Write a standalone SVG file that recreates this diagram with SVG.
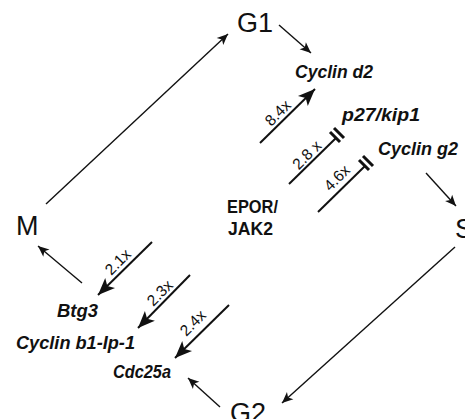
<svg xmlns="http://www.w3.org/2000/svg" width="465" height="419" viewBox="0 0 465 419">
<style>
.phase{font-family:"Liberation Sans",Arial,sans-serif;font-size:27px;fill:#111}
.gene{font-family:"Liberation Sans",Arial,sans-serif;font-size:17.5px;font-weight:bold;font-style:italic;fill:#111}
.rec{font-family:"Liberation Sans",Arial,sans-serif;font-size:18px;font-weight:bold;fill:#111}
.num{font-family:"Liberation Sans",Arial,sans-serif;font-size:15.5px;fill:#111;text-anchor:middle}
.cyc{stroke:#111;stroke-width:1.4;fill:none;marker-end:url(#arS)}
.act{stroke:#111;stroke-width:2;fill:none;marker-end:url(#arB)}
.inh{stroke:#111;stroke-width:2;fill:none}
.bar{stroke:#111;stroke-width:3;fill:none}
</style>
<defs>
<marker id="arS" markerUnits="userSpaceOnUse" markerWidth="14" markerHeight="12" viewBox="0 -6 12 12" refX="11" refY="0" orient="auto">
<path d="M11,0 L0,-4.8 L2.8,0 L0,4.8 z" fill="#111"/>
</marker>
<marker id="arB" markerUnits="userSpaceOnUse" markerWidth="20" markerHeight="16" viewBox="0 -8 18 16" refX="17" refY="0" orient="auto">
<path d="M17,0 L0,-7 L4,0 L0,7 z" fill="#111"/>
</marker>
</defs>
<rect width="465" height="419" fill="#fff"/>
<g id="connectors">
<line class="cyc" x1="46" y1="204" x2="228" y2="34"/>
<line class="cyc" x1="279" y1="25" x2="311" y2="53"/>
<line class="cyc" x1="426" y1="173" x2="456" y2="206"/>
<line class="cyc" x1="455" y1="247" x2="282" y2="403"/>
<line class="cyc" x1="220" y1="407" x2="188" y2="378"/>
<line class="cyc" x1="82" y1="283" x2="38" y2="246"/>
<g id="e-8.4x"><line class="act" x1="260" y1="143" x2="315" y2="89"/>
<text class="num" transform="translate(278,113) rotate(-45)" y="5">8.4x</text></g>
<g id="e-2.8x"><line class="inh" x1="289" y1="184" x2="336" y2="138"/>
<line class="bar" x1="330" y1="132" x2="340" y2="142"/><line class="bar" x1="334" y1="128" x2="344" y2="138"/>
<text class="num" transform="translate(307,155) rotate(-45)" y="5">2.8 x</text></g>
<g id="e-4.6x"><line class="inh" x1="318" y1="212" x2="365" y2="166"/>
<line class="bar" x1="359" y1="160" x2="369" y2="170"/><line class="bar" x1="363" y1="156" x2="373" y2="166"/>
<text class="num" transform="translate(337,178) rotate(-45)" y="5">4.6x</text></g>
<g id="e-2.1x"><line class="act" x1="152" y1="242" x2="98" y2="295"/>
<text class="num" transform="translate(118,262) rotate(-45)" y="5">2.1x</text></g>
<g id="e-2.3x"><line class="act" x1="190" y1="275" x2="138" y2="328"/>
<text class="num" transform="translate(160,293) rotate(-45)" y="5">2.3x</text></g>
<g id="e-2.4x"><line class="act" x1="229" y1="305" x2="175" y2="358"/>
<text class="num" transform="translate(193,323) rotate(-45)" y="5">2.4x</text></g>
</g>
<g id="G1"><text class="phase" x="237" y="32">G1</text></g>
<g id="M"><text class="phase" x="16" y="235">M</text></g>
<g id="S"><text class="phase" x="455" y="238">S</text></g>
<g id="G2"><text class="phase" x="230" y="422">G2</text></g>
<g id="cyclin-d2"><text class="gene" x="295" y="78" textLength="78" lengthAdjust="spacingAndGlyphs">Cyclin d2</text></g>
<g id="p27"><text class="gene" x="342" y="121" textLength="78" lengthAdjust="spacingAndGlyphs">p27/kip1</text></g>
<g id="cyclin-g2"><text class="gene" x="378" y="155" textLength="80" lengthAdjust="spacingAndGlyphs">Cyclin g2</text></g>
<g id="epor"><text class="rec" x="227" y="213" textLength="51" lengthAdjust="spacingAndGlyphs">EPOR/</text><text class="rec" x="228" y="235" textLength="45" lengthAdjust="spacingAndGlyphs">JAK2</text></g>
<g id="btg3"><text class="gene" x="57" y="317" textLength="41" lengthAdjust="spacingAndGlyphs">Btg3</text></g>
<g id="cyclin-b1"><text class="gene" x="16" y="349" textLength="119" lengthAdjust="spacingAndGlyphs">Cyclin b1-Ip-1</text></g>
<g id="cdc25a"><text class="gene" x="113" y="378" textLength="58" lengthAdjust="spacingAndGlyphs">Cdc25a</text></g>
</svg>
